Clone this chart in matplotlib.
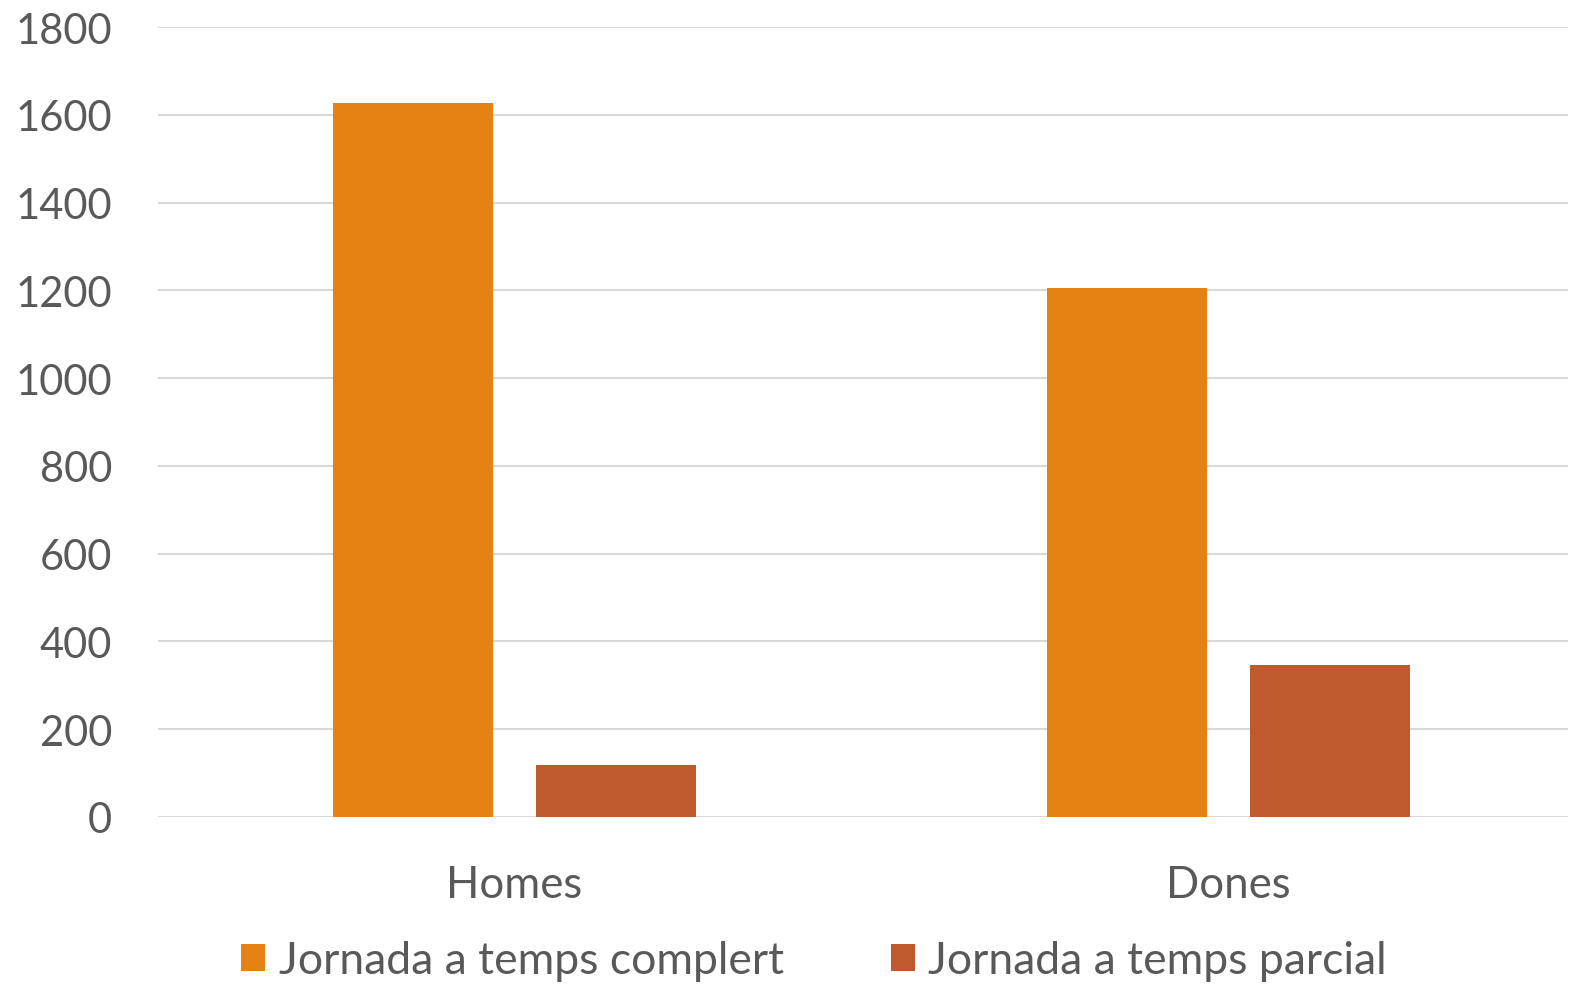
import matplotlib.pyplot as plt
import numpy as np

categories = ["Homes", "Dones"]
series_names = ["Jornada a temps complert", "Jornada a temps parcial"]
complert = [1627, 1205]
parcial = [118, 346]
yticks = [0, 200, 400, 600, 800, 1000, 1200, 1400, 1600, 1800]

colors = ["#E48313", "#BE5A2D"]
text_color = "#595959"

plt.rcParams['font.family'] = ['Lato', 'DejaVu Sans']

W, H = 1571, 987
fig = plt.figure(figsize=(W / 100, H / 100), dpi=100)
ax = fig.add_axes([158 / W, 1 - 818 / H, (1568 - 158) / W, (818 - 28) / H])

x = np.arange(len(categories))
bw = 0.224
off = 0.142
ax.bar(x - off, complert, bw, color=colors[0], label=series_names[0], zorder=2)
ax.bar(x + off, parcial, bw, color=colors[1], label=series_names[1], zorder=2)

ax.set_xlim(-0.4993, 1.4755)
ax.set_ylim(0, 1800)
ax.set_yticks(yticks)
ax.set_xticks(x)
ax.set_xticklabels(categories)
ax.grid(axis='y', color="#D9D9D9", linewidth=1.5, zorder=0)
for s in ax.spines.values():
    s.set_visible(False)
ax.tick_params(axis='both', length=0, labelsize=30, labelcolor=text_color)
ax.tick_params(axis='x', labelsize=31.5, pad=34)
ax.tick_params(axis='y', pad=33)

leg = fig.legend(loc='center', bbox_to_anchor=(814 / W, 1 - 962 / H), ncol=2,
                 frameon=False, fontsize=32, labelcolor=text_color,
                 handlelength=0.55, handleheight=0.55, handletextpad=0.3,
                 columnspacing=2.4)

fig.savefig("out.png", dpi=100)
